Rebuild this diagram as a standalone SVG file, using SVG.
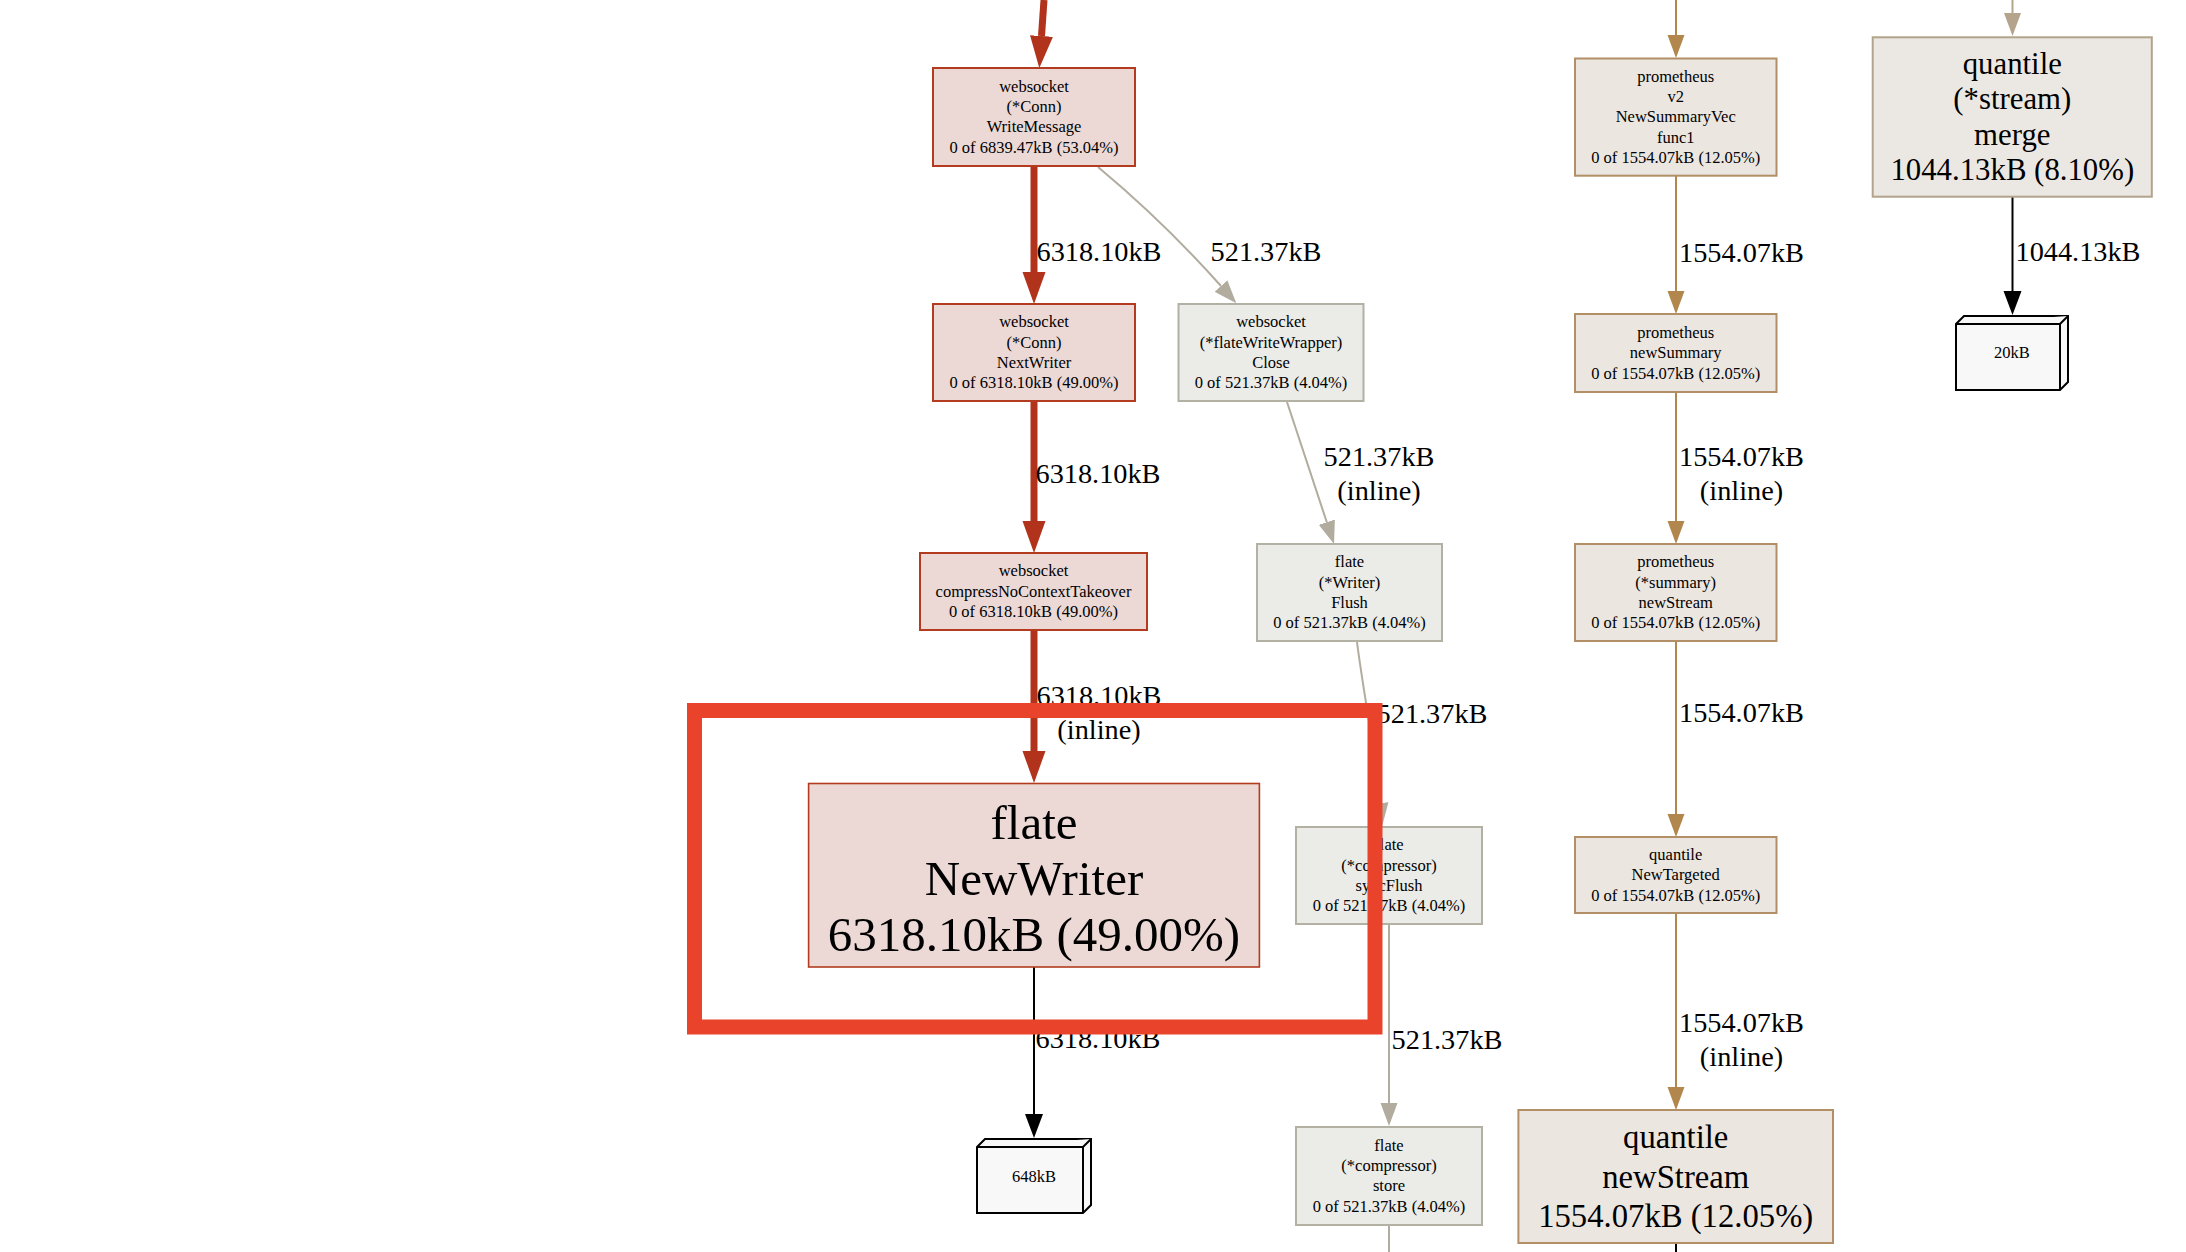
<svg xmlns="http://www.w3.org/2000/svg" width="2186" height="1252" viewBox="0 0 2186 1252">
<style>
text{font-family:"Liberation Serif","Times New Roman",serif;fill:#000;text-anchor:middle}
.s{font-size:16.5px}
.e{font-size:28.3px}
.big{font-size:49px}
.m{font-size:30.8px}
.q{font-size:32.7px}
.nr{fill:#ecd9d5;stroke:#b23b20;stroke-width:2}
.ng{fill:#ebebe7;stroke:#b3b0a4;stroke-width:2}
.np{fill:#ece6e0;stroke:#b28f66;stroke-width:2}
.nm{fill:#ebe8e3;stroke:#b2a38b;stroke-width:2}
.nb{fill:#f8f8f8;stroke:#000;stroke-width:2;stroke-linejoin:miter}
.er{fill:none;stroke:#b2331b;stroke-width:7}
.eg{fill:none;stroke:#b2ac9f;stroke-width:2}
.ep{fill:none;stroke:#b2874e;stroke-width:2}
.et{fill:none;stroke:#b5a48c;stroke-width:2}
.ek{fill:none;stroke:#000;stroke-width:2}
</style>
<defs>
<marker id="ar" markerUnits="userSpaceOnUse" markerWidth="34" markerHeight="26" viewBox="0 -13 34 26" refX="0" refY="0" orient="auto"><path d="M0,-11.5 L32,0 L0,11.5 z" fill="#b2331b"/></marker>
<marker id="ag" markerUnits="userSpaceOnUse" markerWidth="25" markerHeight="20" viewBox="0 -10 25 20" refX="0" refY="0" orient="auto"><path d="M0,-8.5 L23,0 L0,8.5 z" fill="#b2ac9f"/></marker>
<marker id="ap" markerUnits="userSpaceOnUse" markerWidth="25" markerHeight="20" viewBox="0 -10 25 20" refX="0" refY="0" orient="auto"><path d="M0,-8.5 L23,0 L0,8.5 z" fill="#b2874e"/></marker>
<marker id="at" markerUnits="userSpaceOnUse" markerWidth="25" markerHeight="20" viewBox="0 -10 25 20" refX="0" refY="0" orient="auto"><path d="M0,-8.5 L23,0 L0,8.5 z" fill="#b5a48c"/></marker>
<marker id="ak" markerUnits="userSpaceOnUse" markerWidth="26" markerHeight="22" viewBox="0 -10 26 20" refX="0" refY="0" orient="auto"><path d="M0,-9 L24,0 L0,9 z" fill="#000"/></marker>
</defs>
<rect width="2186" height="1252" fill="#fff"/>

<g id="connectors">
<path class="er" d="M1044,0 L1041.5,36" marker-end="url(#ar)"/>
<path class="er" d="M1034,166 L1034,272" marker-end="url(#ar)"/>
<path class="er" d="M1034,401 L1034,521" marker-end="url(#ar)"/>
<path class="er" d="M1034,630 L1034,751" marker-end="url(#ar)"/>
<path class="ek" d="M1034,967 L1034,1114" marker-end="url(#ak)"/>
<path class="eg" d="M1098,167 C1140,202 1180,240 1221,286" marker-end="url(#ag)"/>
<path class="eg" d="M1287,402 L1326.8,522.2" marker-end="url(#ag)"/>
<path class="eg" d="M1357,642 C1363,690 1375,750 1380,803" marker-end="url(#ag)"/>
<path class="eg" d="M1389,924 L1389,1103" marker-end="url(#ag)"/>
<path class="eg" d="M1389,1225 L1389,1252"/>
<path class="ep" d="M1676,0 L1676,35" marker-end="url(#ap)"/>
<path class="ep" d="M1676,176 L1676,291" marker-end="url(#ap)"/>
<path class="ep" d="M1676,392 L1676,521" marker-end="url(#ap)"/>
<path class="ep" d="M1676,641 L1676,814" marker-end="url(#ap)"/>
<path class="ep" d="M1676,913 L1676,1087" marker-end="url(#ap)"/>
<path class="ek" d="M1676,1243 L1676,1252"/>
<path class="et" d="M2012.5,0 L2012.5,13" marker-end="url(#at)"/>
<path class="ek" d="M2012.5,197 L2012.5,291" marker-end="url(#ak)"/>

<text class="e" x="1099" y="261">6318.10kB</text>
<text class="e" x="1266" y="261">521.37kB</text>
<text class="e" x="1098" y="483">6318.10kB</text>
<text class="e" x="1379" y="466">521.37kB</text>
<text class="e" x="1379" y="500">(inline)</text>
<text class="e" x="1099" y="705">6318.10kB</text>
<text class="e" x="1099" y="739">(inline)</text>
<text class="e" x="1432" y="723">521.37kB</text>
<text class="e" x="1098" y="1048">6318.10kB</text>
<text class="e" x="1447" y="1049">521.37kB</text>
<text class="e" x="1741.5" y="262">1554.07kB</text>
<text class="e" x="1741.5" y="466">1554.07kB</text>
<text class="e" x="1741.5" y="500">(inline)</text>
<text class="e" x="1741.5" y="722">1554.07kB</text>
<text class="e" x="1741.5" y="1032">1554.07kB</text>
<text class="e" x="1741.5" y="1066">(inline)</text>
<text class="e" x="2078" y="261">1044.13kB</text>
</g>

<g id="n_writemessage">
<rect class="nr" x="933" y="68" width="202" height="98"/>
<text class="s" x="1034" y="91.7">websocket</text>
<text class="s" x="1034" y="112">(*Conn)</text>
<text class="s" x="1034" y="132.3">WriteMessage</text>
<text class="s" x="1034" y="152.7">0 of 6839.47kB (53.04%)</text>
</g>
<g id="n_nextwriter">
<rect class="nr" x="933" y="304" width="202" height="97"/>
<text class="s" x="1034" y="327.2">websocket</text>
<text class="s" x="1034" y="347.5">(*Conn)</text>
<text class="s" x="1034" y="367.9">NextWriter</text>
<text class="s" x="1034" y="388.2">0 of 6318.10kB (49.00%)</text>
</g>
<g id="n_close">
<rect class="ng" x="1178.5" y="304" width="185" height="97"/>
<text class="s" x="1271" y="327.2">websocket</text>
<text class="s" x="1271" y="347.5">(*flateWriteWrapper)</text>
<text class="s" x="1271" y="367.9">Close</text>
<text class="s" x="1271" y="388.2">0 of 521.37kB (4.04%)</text>
</g>
<g id="n_compress">
<rect class="nr" x="920" y="553" width="227" height="77"/>
<text class="s" x="1033.5" y="576.4">websocket</text>
<text class="s" x="1033.5" y="596.7">compressNoContextTakeover</text>
<text class="s" x="1033.5" y="617">0 of 6318.10kB (49.00%)</text>
</g>
<g id="n_flush">
<rect class="ng" x="1257" y="544" width="185" height="97"/>
<text class="s" x="1349.5" y="567.2">flate</text>
<text class="s" x="1349.5" y="587.5">(*Writer)</text>
<text class="s" x="1349.5" y="607.9">Flush</text>
<text class="s" x="1349.5" y="628.2">0 of 521.37kB (4.04%)</text>
</g>
<g id="n_newwriter">
<rect class="nr" x="808.6" y="783.5" width="450.8" height="183.5" style="stroke-width:1.6"/>
<text class="big" x="1034" y="839">flate</text>
<text class="big" x="1034" y="895">NewWriter</text>
<text class="big" x="1034" y="951">6318.10kB (49.00%)</text>
</g>
<g id="n_syncflush">
<rect class="ng" x="1296" y="827" width="186" height="97"/>
<text class="s" x="1389" y="850.2">flate</text>
<text class="s" x="1389" y="870.5">(*compressor)</text>
<text class="s" x="1389" y="890.9">syncFlush</text>
<text class="s" x="1389" y="911.2">0 of 521.37kB (4.04%)</text>
</g>
<g id="n_store">
<rect class="ng" x="1296" y="1127" width="186" height="98"/>
<text class="s" x="1389" y="1150.7">flate</text>
<text class="s" x="1389" y="1171">(*compressor)</text>
<text class="s" x="1389" y="1191.4">store</text>
<text class="s" x="1389" y="1211.7">0 of 521.37kB (4.04%)</text>
</g>
<g id="n_648kb">
<path class="nb" d="M977,1147 L985,1139 L1091,1139 L1091,1205 L1083,1213 L977,1213 Z"/>
<path class="nb" d="M977,1147 L1083,1147 L1091,1139 M1083,1147 L1083,1213" fill="none"/>
<text class="s" x="1034" y="1182">648kB</text>
</g>
<g id="n_func1">
<rect class="np" x="1575" y="58.5" width="201.5" height="117.2"/>
<text class="s" x="1675.7" y="81.5">prometheus</text>
<text class="s" x="1675.7" y="101.9">v2</text>
<text class="s" x="1675.7" y="122.2">NewSummaryVec</text>
<text class="s" x="1675.7" y="142.5">func1</text>
<text class="s" x="1675.7" y="162.9">0 of 1554.07kB (12.05%)</text>
</g>
<g id="n_newsummary">
<rect class="np" x="1575" y="314" width="201.5" height="78"/>
<text class="s" x="1675.7" y="337.9">prometheus</text>
<text class="s" x="1675.7" y="358.2">newSummary</text>
<text class="s" x="1675.7" y="378.5">0 of 1554.07kB (12.05%)</text>
</g>
<g id="n_summarynewstream">
<rect class="np" x="1575" y="544" width="201.5" height="97"/>
<text class="s" x="1675.7" y="567.2">prometheus</text>
<text class="s" x="1675.7" y="587.5">(*summary)</text>
<text class="s" x="1675.7" y="607.9">newStream</text>
<text class="s" x="1675.7" y="628.2">0 of 1554.07kB (12.05%)</text>
</g>
<g id="n_newtargeted">
<rect class="np" x="1575" y="837" width="201.5" height="76"/>
<text class="s" x="1675.7" y="859.9">quantile</text>
<text class="s" x="1675.7" y="880.2">NewTargeted</text>
<text class="s" x="1675.7" y="900.5">0 of 1554.07kB (12.05%)</text>
</g>
<g id="n_quantilenewstream">
<rect class="np" x="1518.4" y="1110" width="314.6" height="133"/>
<text class="q" x="1675.7" y="1148">quantile</text>
<text class="q" x="1675.7" y="1187.5">newStream</text>
<text class="q" x="1675.7" y="1227">1554.07kB (12.05%)</text>
</g>
<g id="n_merge">
<rect class="nm" x="1872.7" y="37.3" width="279.1" height="159.4"/>
<text class="m" x="2012.3" y="73.5">quantile</text>
<text class="m" x="2012.3" y="109">(*stream)</text>
<text class="m" x="2012.3" y="144.7">merge</text>
<text class="m" x="2012.3" y="180.3">1044.13kB (8.10%)</text>
</g>
<g id="n_20kb">
<path class="nb" d="M1956,324 L1964,316 L2068,316 L2068,382 L2060,390 L1956,390 Z"/>
<path class="nb" d="M1956,324 L2060,324 L2068,316 M2060,324 L2060,390" fill="none"/>
<text class="s" x="2012" y="358">20kB</text>
</g>

<g id="highlight">
<rect x="694.5" y="710.5" width="680.5" height="316.5" fill="none" stroke="#e9432b" stroke-width="15"/>
</g>
</svg>
